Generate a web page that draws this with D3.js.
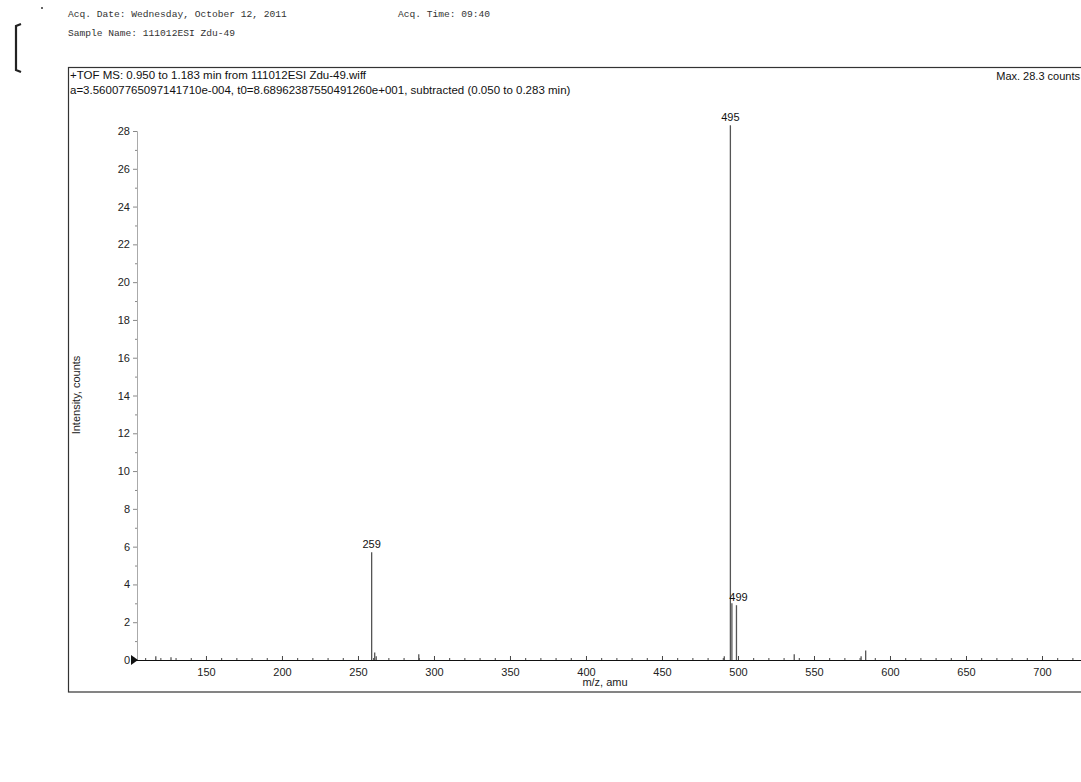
<!DOCTYPE html>
<html>
<head>
<meta charset="utf-8">
<script src="https://cdn.jsdelivr.net/npm/d3@7"></script>
<style>
  html, body { margin: 0; padding: 0; background: #fff; }
  svg { display: block; }
</style>
</head>
<body>
<script>
// ---- data ----
const peakMz        = [117, 127, 259, 261, 262, 290, 491, 495, 496, 499, 537, 581, 584];
const peakIntensity = [0.2, 0.15, 5.7, 0.4, 0.2, 0.3, 0.2, 28.3, 3.0, 2.9, 0.3, 0.2, 0.5];
const labeledPeaks  = [259, 495, 499];
const xTickValues   = [150, 200, 250, 300, 350, 400, 450, 500, 550, 600, 650, 700];
const yTickValues   = [0, 2, 4, 6, 8, 10, 12, 14, 16, 18, 20, 22, 24, 26, 28];
const headerLines   = ["Acq. Date: Wednesday, October 12, 2011", "Sample Name: 111012ESI  Zdu-49"];
const headerTime    = "Acq. Time: 09:40";
const titleLines    = ["+TOF MS: 0.950 to 1.183 min from 111012ESI  Zdu-49.wiff",
                       "a=3.56007765097141710e-004, t0=8.68962387550491260e+001, subtracted (0.050 to 0.283 min)"];
const maxLabel      = "Max. 28.3 counts";
const xTitle        = "m/z, amu";
const yTitle        = "Intensity, counts";

const W = 1081, H = 782;
const svg = d3.select("body").append("svg").attr("width", W).attr("height", H)
  .style("font-family", "'Liberation Sans', Arial, sans-serif");

// scan artefacts: bracket and dot
svg.append("path").attr("d", "M21,24 L16,26 L16,70 L21,72")
  .attr("fill", "none").attr("stroke", "#222").attr("stroke-width", 2.2);
svg.append("circle").attr("cx", 42).attr("cy", 8).attr("r", 1).attr("fill", "#333");

// header (monospace)
const mono = "'Liberation Mono', 'DejaVu Sans Mono', monospace";
svg.append("text").attr("x", 68).attr("y", 16.5).text(headerLines[0])
  .style("font-family", mono).style("font-size", "9.6px").attr("fill", "#333");
svg.append("text").attr("x", 398).attr("y", 16.5).text(headerTime)
  .style("font-family", mono).style("font-size", "9.6px").attr("fill", "#333");
svg.append("text").attr("x", 68).attr("y", 35.5).text(headerLines[1])
  .style("font-family", mono).style("font-size", "9.6px").attr("fill", "#333");

// frame
svg.append("rect").attr("x", 68.5).attr("y", 67.5).attr("width", 1100).attr("height", 624.5)
  .attr("fill", "none").attr("stroke", "#333").attr("stroke-width", 1.2);

// title texts
svg.append("text").attr("x", 70).attr("y", 78.5).text(titleLines[0])
  .style("font-size", "11.5px").attr("fill", "#111");
svg.append("text").attr("x", 70).attr("y", 93.5).text(titleLines[1])
  .style("font-size", "11.5px").attr("fill", "#111");
svg.append("text").attr("x", 1080).attr("y", 80).attr("text-anchor", "end").text(maxLabel)
  .style("font-size", "11px").attr("fill", "#111");

// scales
const x = d3.scaleLinear().domain([102, 730]).range([133, 1087.6]);
const y = d3.scaleLinear().domain([0, 28]).range([660, 131]);

// y axis
const yAxisG = svg.append("g").attr("transform", "translate(137,0)");
yAxisG.call(d3.axisLeft(y).tickValues(d3.range(0, 29, 1)).tickSize(3).tickPadding(4)
  .tickFormat(d => (yTickValues.includes(d) ? d : "")));
yAxisG.select(".domain").attr("stroke", "#aaa");
yAxisG.selectAll(".tick line").attr("stroke", "#888").attr("x2", d => (d % 2 === 0 ? -4 : -2));
yAxisG.selectAll(".tick text").style("font-size", "11px").style("font-family", "'Liberation Sans', Arial, sans-serif").attr("fill", "#222")
  .attr("x", -7);

// x axis
const xAxisG = svg.append("g").attr("transform", "translate(0,660)");
xAxisG.call(d3.axisBottom(x).tickValues(d3.range(110, 731, 10)).tickSize(-3).tickPadding(8)
  .tickFormat(d => (xTickValues.includes(d) ? d : "")));
xAxisG.select(".domain").attr("stroke", "#111").attr("stroke-width", 1.2);
xAxisG.selectAll(".tick line").attr("stroke", "#444").attr("y2", d => (d % 50 === 0 ? -4 : -2));
xAxisG.selectAll(".tick text").style("font-size", "11px").style("font-family", "'Liberation Sans', Arial, sans-serif").attr("fill", "#222");

// origin marker
svg.append("path").attr("d", `M${x(102) - 2},${y(0) - 5} L${x(102) + 5},${y(0)} L${x(102) - 2},${y(0) + 5} Z`)
  .attr("fill", "#111");

// axis titles
svg.append("text").attr("x", 605).attr("y", 686).attr("text-anchor", "middle").text(xTitle)
  .style("font-size", "11px").attr("fill", "#222");
svg.append("text").attr("transform", "translate(80,395) rotate(-90)").attr("text-anchor", "middle").text(yTitle)
  .style("font-size", "11px").attr("fill", "#222");

// spectrum sticks
const peaks = peakMz.map((m, i) => ({ m, v: peakIntensity[i] }));
svg.append("g").selectAll("line").data(peaks).join("line")
  .attr("x1", d => x(d.m)).attr("x2", d => x(d.m))
  .attr("y1", y(0)).attr("y2", d => y(d.v))
  .attr("stroke", "#555").attr("stroke-width", 1.3);

// peak labels
svg.append("g").selectAll("text").data(peaks.filter(d => labeledPeaks.includes(d.m))).join("text")
  .attr("x", d => x(d.m) + (d.m === 499 ? 2 : 0)).attr("y", d => y(d.v) - 4)
  .attr("text-anchor", "middle").text(d => d.m)
  .style("font-size", "11px").attr("fill", "#111");
</script>
</body>
</html>
